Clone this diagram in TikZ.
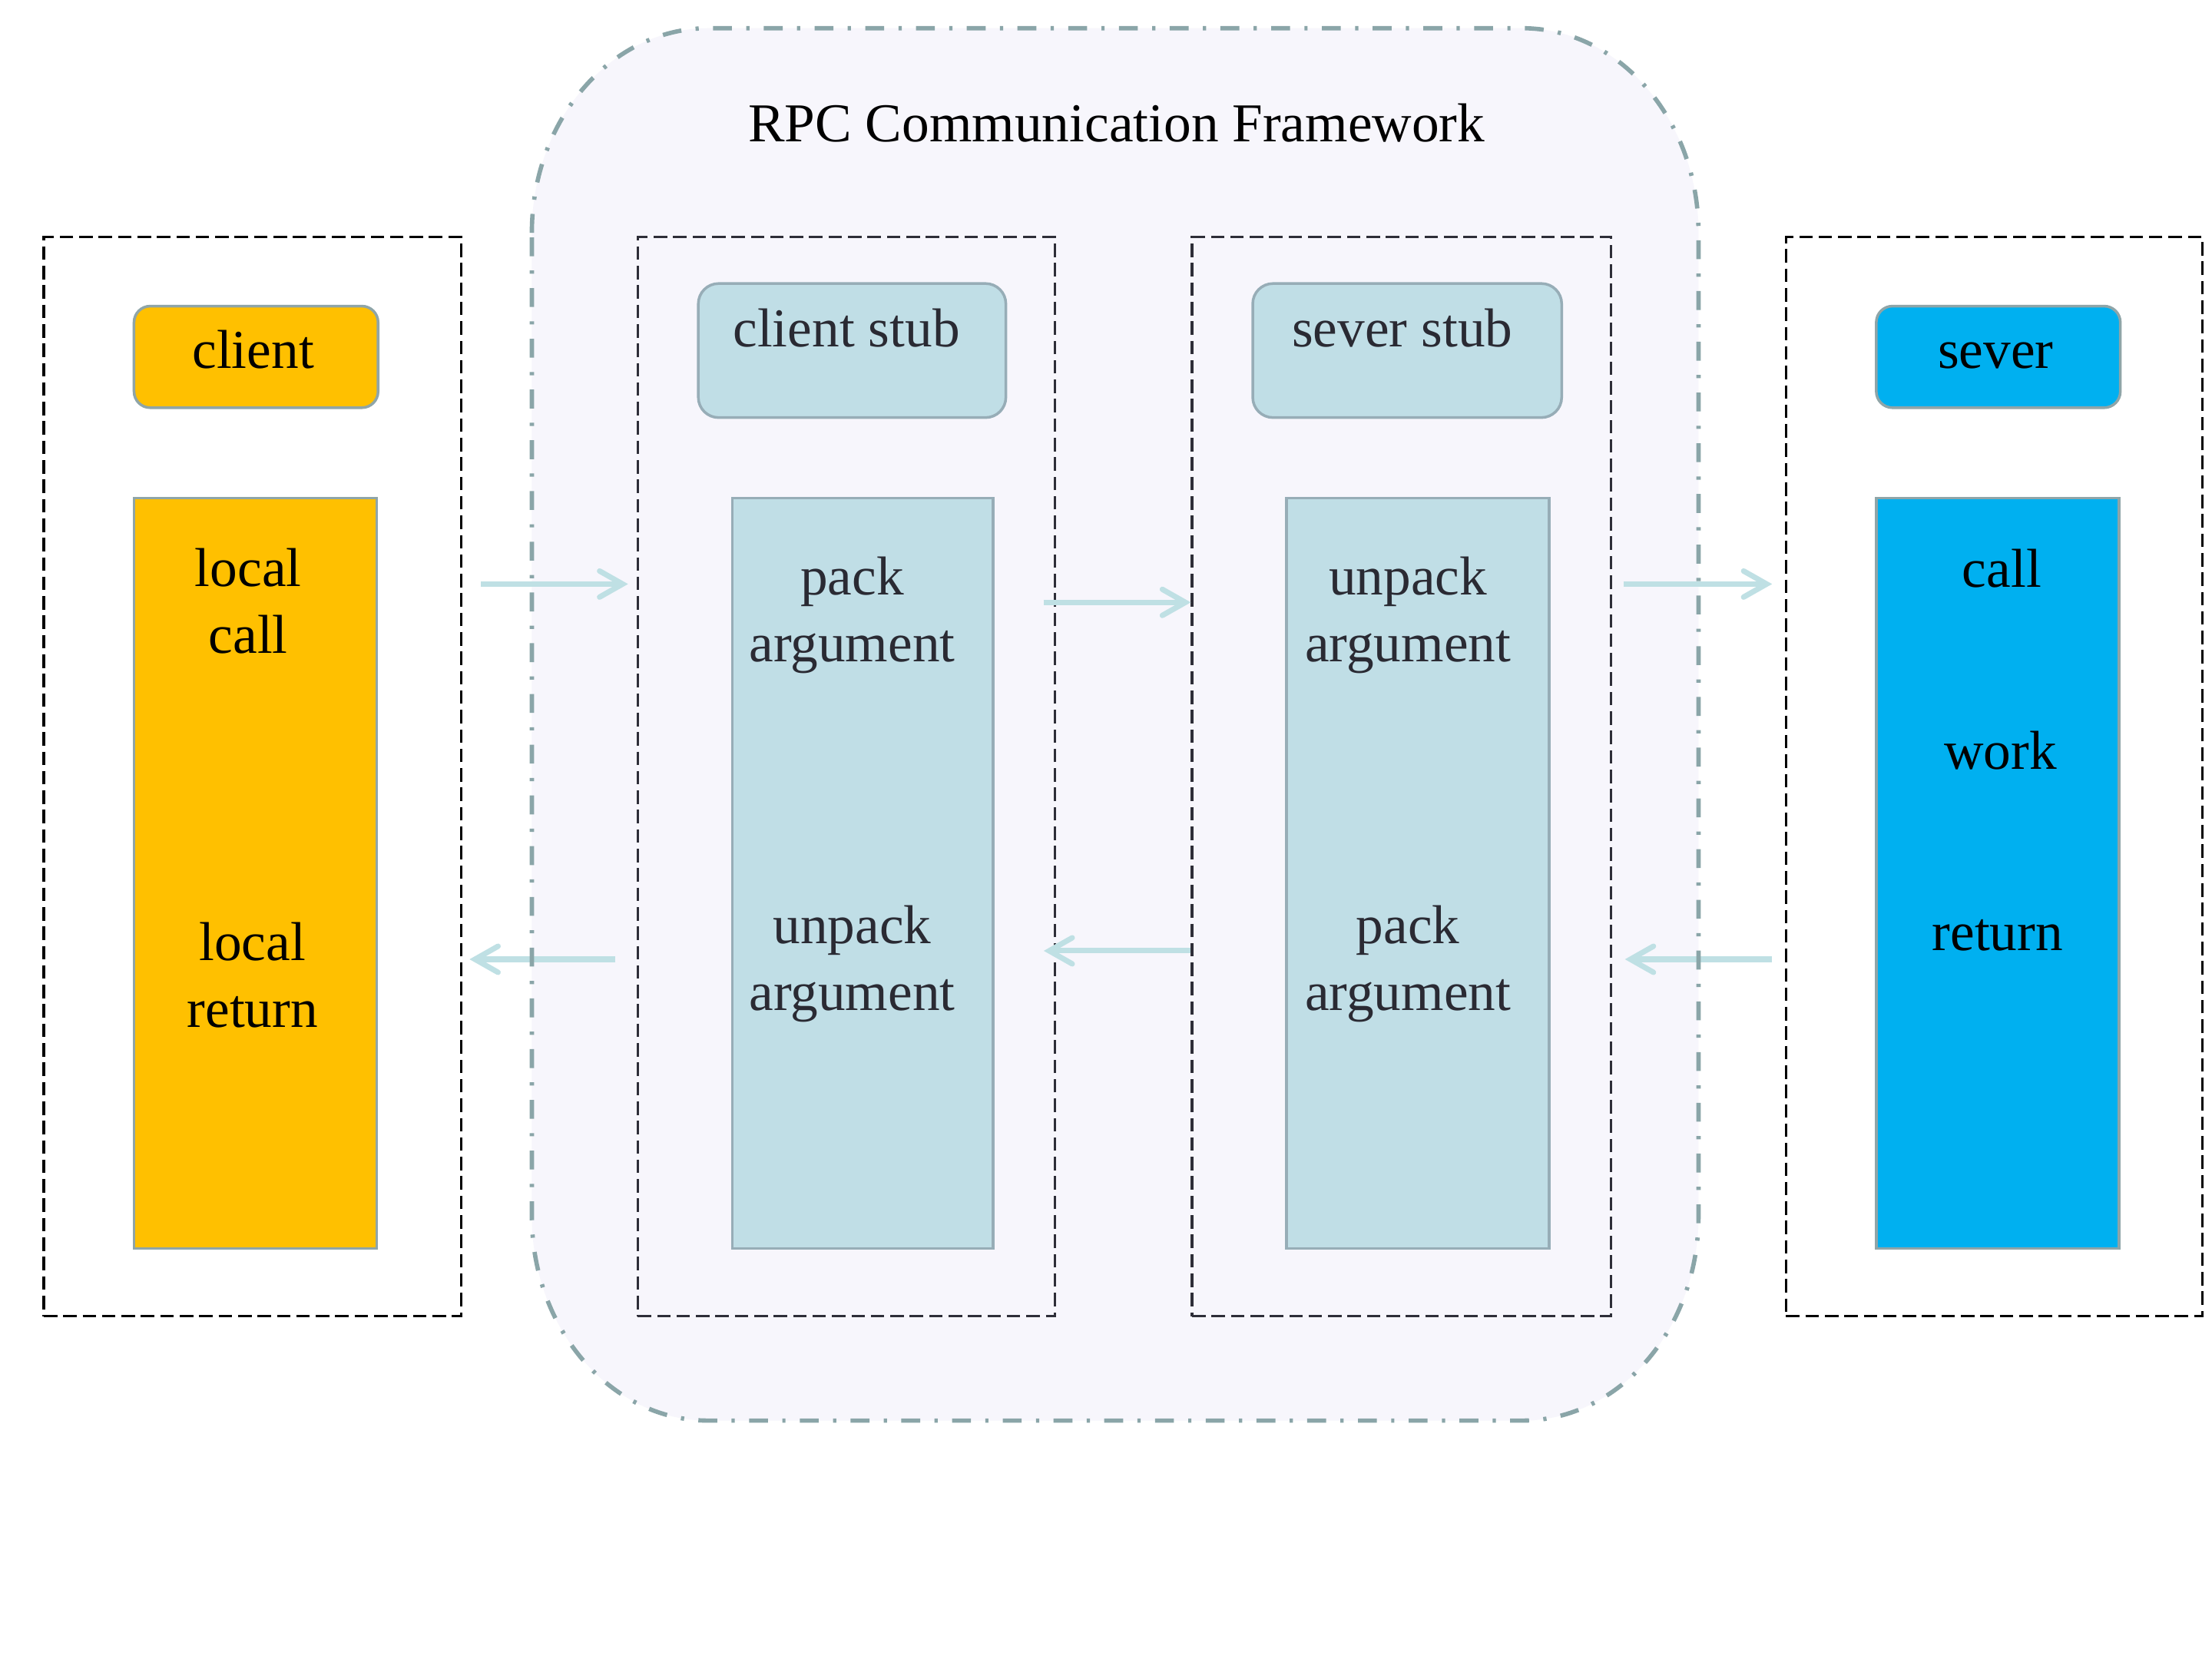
\documentclass[tikz,border=0pt]{standalone}
\usepackage{fontspec}
\setmainfont{Liberation Serif}
\usetikzlibrary{arrows.meta,fit}
\definecolor{gold}{HTML}{FFC000}
\definecolor{skyb}{HTML}{00B0F0}
\definecolor{paleb}{HTML}{C0DEE6}
\definecolor{fwfill}{HTML}{F7F6FC}
\definecolor{fwline}{HTML}{8AA5A8}
\definecolor{bord}{HTML}{8FA5A8}
\definecolor{bordb}{HTML}{97ADB7}
\definecolor{arrowc}{HTML}{BFE0E4}
\definecolor{darktxt}{HTML}{2A2A33}
\definecolor{darkdash}{HTML}{2E2E38}
\begin{document}
\begin{tikzpicture}[x=0.018367cm,y=-0.018367cm,
  txt/.style={font=\fontsize{20.3}{24.6}\selectfont, inner sep=0pt, align=center, anchor=base},
  obox/.style={draw=black, line width=0.9pt, dash pattern=on 5pt off 2.2pt, inner sep=0pt},
  ibox/.style={draw=darkdash, line width=0.9pt, dash pattern=on 5pt off 2.2pt, inner sep=0pt},
  headbox/.style={draw=bord, line width=1pt, rounded corners=6pt, inner sep=0pt},
  stubbox/.style={draw=bordb, fill=paleb, line width=1pt, rounded corners=7.5pt, inner sep=0pt},
  colbox/.style={draw=bord, line width=1pt, inner sep=0pt},
  flow/.style={draw=arrowc, line width=2pt, -{Straight Barb[length=3mm,width=3.4mm,line cap=round]}}
]
\fill[white] (0,0) rectangle (1568,1176);
\useasboundingbox (0,0) rectangle (1568,1176);

% framework fill
\fill[fwfill] (377,165) .. controls (377,85) and (433,20) .. (502,20)
  -- (1079,20) .. controls (1148,20) and (1204,85) .. (1204,165)
  -- (1204,862) .. controls (1204,942) and (1148,1007) .. (1079,1007)
  -- (502,1007) .. controls (433,1007) and (377,942) .. (377,862) -- cycle;

\node[txt, text=black] (title) at (791.5,100.7) {RPC Communication Framework};

% dashed containers
\node[obox, fit={(31,168) (327,933)}] (clbox) {};
\node[ibox, fit={(452,168) (748,933)}] (csbox) {};
\node[ibox, fit={(845,168) (1142,933)}] (ssbox) {};
\node[obox, fit={(1266,168) (1561,933)}] (svbox) {};

% client column
\node[headbox, fill=gold, fit={(95,217) (268,289)}] (client) {};
\node[txt] (clientt) at (179.5,261) {client};
\node[colbox, fill=gold, fit={(95,353) (267,885)}] (clcol) {};
\node[txt] (lcall) at (176,463) {local\\call};
\node[txt] (lret) at (179,728) {local\\return};

% client stub column
\node[stubbox, fit={(495,201) (713,296)}] (cstub) {};
\node[txt, text=darktxt] (cstubt) at (600,246) {client stub};
\node[colbox, draw=bordb, fill=paleb, fit={(519,353) (704,885)}] (cscol) {};
\node[txt, text=darktxt] (cspack) at (604,469) {pack\\argument};
\node[txt, text=darktxt] (csunpack) at (604,716) {unpack\\argument};

% sever stub column
\node[stubbox, fit={(888,201) (1107,296)}] (sstub) {};
\node[txt, text=darktxt] (sstubt) at (994,246) {sever stub};
\node[colbox, draw=bordb, fill=paleb, fit={(912,353) (1098,885)}] (sscol) {};
\node[txt, text=darktxt] (ssunpack) at (998,469) {unpack\\argument};
\node[txt, text=darktxt] (sspack) at (998,716) {pack\\argument};

% sever column
\node[headbox, fill=skyb, fit={(1330,217) (1503,289)}] (sever) {};
\node[txt] (severt) at (1414.6,261) {sever};
\node[colbox, fill=skyb, fit={(1330,353) (1502,885)}] (svcol) {};
\node[txt] (scall) at (1419,416) {call};
\node[txt] (swork) at (1418,545) {work};
\node[txt] (sret) at (1416,674) {return};

% arrows
\coordinate (r1) at (0,414);
\coordinate (r2) at (0,427);
\coordinate (l1) at (0,680);
\coordinate (l2) at (0,674);
\draw[flow, shorten <=6.8pt, shorten >=3.1pt] (clbox.east |- r1) -- (csbox.west |- r1);
\draw[flow, shorten <=-4.7pt] (csbox.east |- r2) -- (ssbox.west |- r2);
\draw[flow, shorten <=4.2pt, shorten >=4.7pt] (ssbox.east |- r1) -- (svbox.west |- r1);
\draw[flow, shorten <=7.8pt, shorten >=2.6pt] (csbox.west |- l1) -- (clbox.east |- l1);
\draw[flow, shorten >=-4.7pt] (ssbox.west |- l2) -- (csbox.east |- l2);
\draw[flow, shorten <=4.7pt, shorten >=4.7pt] (svbox.west |- l1) -- (ssbox.east |- l1);

% framework border
\draw[fwline, line width=1.6pt, dash pattern=on 7pt off 5.3pt on 1.2pt off 5.3pt]
  (377,165) .. controls (377,85) and (433,20) .. (502,20)
  -- (1079,20) .. controls (1148,20) and (1204,85) .. (1204,165)
  -- (1204,862) .. controls (1204,942) and (1148,1007) .. (1079,1007)
  -- (502,1007) .. controls (433,1007) and (377,942) .. (377,862) -- cycle;
\end{tikzpicture}
\end{document}
